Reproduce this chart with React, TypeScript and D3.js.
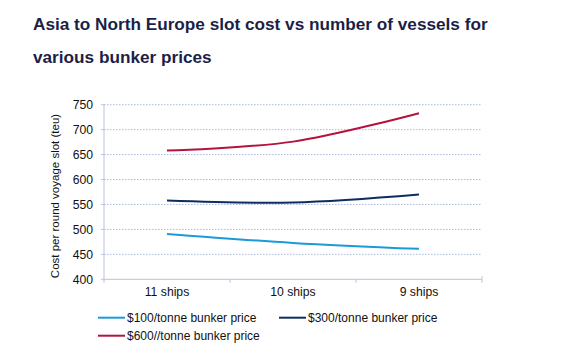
import React from "react";
import * as d3 from "d3";

const categories = ["11 ships", "10 ships", "9 ships"];
const series100 = [491, 473, 461];
const series300 = [558, 554, 570];
const series600 = [658, 676, 733];
const yTicks = [400, 450, 500, 550, 600, 650, 700, 750];
const seriesNames = ["$100/tonne bunker price", "$300/tonne bunker price", "$600//tonne bunker price"];

const W = 567, H = 355;
const left = 104, right = 482, top = 104.7, bottom = 279.3;

export default function App() {
  const x = d3.scaleBand<string>().domain(categories).range([left, right]);
  const y = d3.scaleLinear().domain([400, 750]).range([bottom, top]);
  const line = d3
    .line<number>()
    .x((_, i) => (x(categories[i]) as number) + x.bandwidth() / 2)
    .y((d) => y(d))
    .curve(d3.curveCatmullRom.alpha(0.5));
  const series = [
    { name: seriesNames[0], values: series100, color: "#1a9bd7" },
    { name: seriesNames[1], values: series300, color: "#0e2d5e" },
    { name: seriesNames[2], values: series600, color: "#b5123e" },
  ];
  const legendPos = [
    { x: 98, y: 317.7 },
    { x: 279, y: 317.7 },
    { x: 98, y: 335.7 },
  ];
  const bounds = [left, ...categories.map((c) => (x(c) as number) + x.bandwidth())];
  return (
    <svg width={W} height={H} style={{ position: "absolute", left: 0, top: 0, fontFamily: "Liberation Sans, Arial, sans-serif" }}>
      <rect width={W} height={H} fill="#fff" />
      <text x={33} y={30} fontSize={17.2} fontWeight="bold" fill="#1b1f48">
        Asia to North Europe slot cost vs number of vessels for
      </text>
      <text x={33} y={63} fontSize={17.2} fontWeight="bold" fill="#1b1f48">
        various bunker prices
      </text>
      {yTicks.filter((t) => t > 400).map((t) => (
        <line key={t} x1={left} x2={right} y1={y(t)} y2={y(t)} stroke="#a9bad9" strokeWidth={1} strokeDasharray="1.5,1.5" />
      ))}
      <line x1={left} x2={left} y1={top} y2={bottom} stroke="#b7c4dc" />
      <line x1={left} x2={right} y1={bottom} y2={bottom} stroke="#b7c4dc" />
      <line x1={right} x2={right} y1={bottom} y2={bottom - 3} stroke="#b7c4dc" />
      {yTicks.map((t) => (
        <g key={t}>
          <line x1={left - 3} x2={left} y1={y(t)} y2={y(t)} stroke="#b7c4dc" />
          <text x={left - 11} y={y(t) + 4.5} fontSize={12.2} textAnchor="end" fill="#111">
            {t}
          </text>
        </g>
      ))}
      {bounds.map((b, i) => (
        <line key={i} x1={b} x2={b} y1={bottom} y2={bottom + 3.5} stroke="#b7c4dc" />
      ))}
      {categories.map((c) => (
        <text key={c} x={(x(c) as number) + x.bandwidth() / 2} y={296} fontSize={12.2} textAnchor="middle" fill="#111">
          {c}
        </text>
      ))}
      <text transform={`translate(59,196) rotate(-90)`} fontSize={11.5} textAnchor="middle" fill="#111">
        Cost per round voyage slot (teu)
      </text>
      {series.map((s) => (
        <path key={s.name} d={line(s.values) || ""} fill="none" stroke={s.color} strokeWidth={2} />
      ))}
      {series.map((s, i) => (
        <g key={s.name}>
          <line x1={legendPos[i].x} x2={legendPos[i].x + 27} y1={legendPos[i].y} y2={legendPos[i].y} stroke={s.color} strokeWidth={2} />
          <text x={legendPos[i].x + 29} y={legendPos[i].y + 4.3} fontSize={12} fill="#111">
            {s.name}
          </text>
        </g>
      ))}
    </svg>
  );
}
